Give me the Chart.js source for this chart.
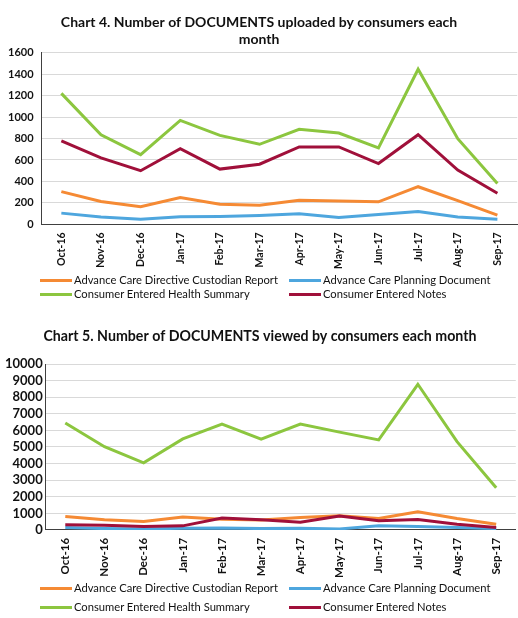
<!DOCTYPE html>
<html>
<head>
  <meta charset="UTF-8">
  <title>Documents uploaded and viewed by consumers</title>
  <script src="https://cdn.jsdelivr.net/npm/chart.js"></script>
  <style>
    body { margin: 0; background: #fff; font-family: Lato, sans-serif; }
    .wrap { position: relative; width: 518px; height: 618px; }
    canvas { position: absolute; left: 0; }
    .legend { position: absolute; left: 40px; width: 478px; display: grid;
              grid-template-columns: 249px 229px; font-size: 11.2px; color: #111; }
    .item { display: flex; align-items: center; white-space: nowrap; }
    .swatch { width: 32px; height: 3px; margin-right: 2px; }
  </style>
</head>
<body>
<div class="wrap">
  <canvas id="uploaded" width="518" height="279" style="top:0"></canvas>
  <div class="legend" id="legend1" style="top:273px; row-gap:0px; line-height:14px"></div>
  <canvas id="viewed" width="518" height="270" style="top:318px"></canvas>
  <div class="legend" id="legend2" style="top:581px; row-gap:5px; line-height:14px"></div>
</div>

<script>
  const months = ['Oct-16', 'Nov-16', 'Dec-16', 'Jan-17', 'Feb-17', 'Mar-17',
                  'Apr-17', 'May-17', 'Jun-17', 'Jul-17', 'Aug-17', 'Sep-17'];
  const seriesNames = ['Advance Care Directive Custodian Report', 'Advance Care Planning Document',
                       'Consumer Entered Health Summary', 'Consumer Entered Notes'];
  const colours = ['#F58A34', '#4EA6DE', '#8CC63F', '#A0103A'];

  // Chart 4: uploaded
  const upCustodian = [305, 213, 164, 250, 188, 178, 225, 219, 210, 351, 222, 86];
  const upPlanning  = [105, 68, 49, 71, 74, 83, 99, 65, 92, 120, 68, 49];
  const upSummary   = [1220, 835, 650, 968, 829, 746, 885, 851, 712, 1445, 798, 382];
  const upNotes     = [777, 620, 500, 706, 515, 561, 721, 721, 567, 835, 506, 290];

  // Chart 5: viewed
  const viewCustodian = [811, 610, 506, 774, 650, 591, 750, 854, 690, 1098, 690, 346];
  const viewPlanning  = [142, 80, 60, 100, 120, 80, 100, 60, 244, 200, 142, 80];
  const viewSummary   = [6445, 5018, 4043, 5488, 6384, 5470, 6384, 5896, 5427, 8780, 5323, 2540];
  const viewNotes     = [305, 285, 201, 244, 711, 610, 467, 833, 549, 630, 346, 142];

  function buildDatasets(values) {
    return values.map((v, i) => ({
      label: seriesNames[i],
      data: v,
      borderColor: colours[i],
      backgroundColor: colours[i],
      borderWidth: 3,
      pointRadius: 0,
      tension: 0,
      fill: false,
      order: 4 - i
    }));
  }

  function makeChart(id, title, values, max, step, opts) {
    const ctx = document.getElementById(id).getContext('2d');
    return new Chart(ctx, {
      type: 'line',
      data: { labels: months, datasets: buildDatasets(values) },
      options: {
        responsive: false,
        animation: false,
        layout: { padding: opts.padding },
        plugins: {
          legend: { display: false },
          tooltip: { enabled: false },
          title: {
            display: true,
            text: title,
            color: '#111',
            font: { family: 'Lato', size: opts.titleSize, weight: 'bold', lineHeight: 1.2 },
            padding: { top: 0, bottom: opts.titleGap }
          }
        },
        scales: {
          x: {
            offset: true,
            grid: { display: false, drawTicks: false },
            border: { display: true, color: '#404040', width: 1 },
            ticks: {
              color: '#111', minRotation: 90, maxRotation: 90, padding: 8,
              font: { family: 'Lato', size: opts.xSize, weight: 'bold' }
            }
          },
          y: {
            min: 0, max: max,
            grid: { color: '#d9d9d9', drawTicks: false },
            border: { display: true, color: '#404040', width: 1 },
            ticks: {
              stepSize: step, autoSkip: false, color: '#111', padding: opts.yPad,
              font: { family: 'Lato', size: opts.ySize, weight: 'bold' },
              callback: v => String(v)
            }
          }
        }
      }
    });
  }

  function makeLegend(id) {
    const box = document.getElementById(id);
    seriesNames.forEach((name, i) => {
      const item = document.createElement('div');
      item.className = 'item';
      const sw = document.createElement('span');
      sw.className = 'swatch';
      sw.style.background = colours[i];
      const txt = document.createElement('span');
      txt.textContent = name;
      item.appendChild(sw);
      item.appendChild(txt);
      box.appendChild(item);
    });
  }

  makeChart('uploaded', ['Chart 4. Number of DOCUMENTS uploaded by consumers each', 'month'],
            [upCustodian, upPlanning, upSummary, upNotes], 1600, 200,
            { padding: { top: 14, left: 0, right: 0, bottom: 2 }, titleSize: 14, titleGap: 5,
              xSize: 10.5, ySize: 11, yPad: 8 });
  makeChart('viewed', 'Chart 5. Number of DOCUMENTS viewed by consumers each month',
            [viewCustodian, viewPlanning, viewSummary, viewNotes], 10000, 1000,
            { padding: { top: 10, left: 2, right: 0, bottom: 2 }, titleSize: 14.2, titleGap: 19,
              xSize: 11.5, ySize: 13, yPad: 3 });
  makeLegend('legend1');
  makeLegend('legend2');
</script>
</body>
</html>
